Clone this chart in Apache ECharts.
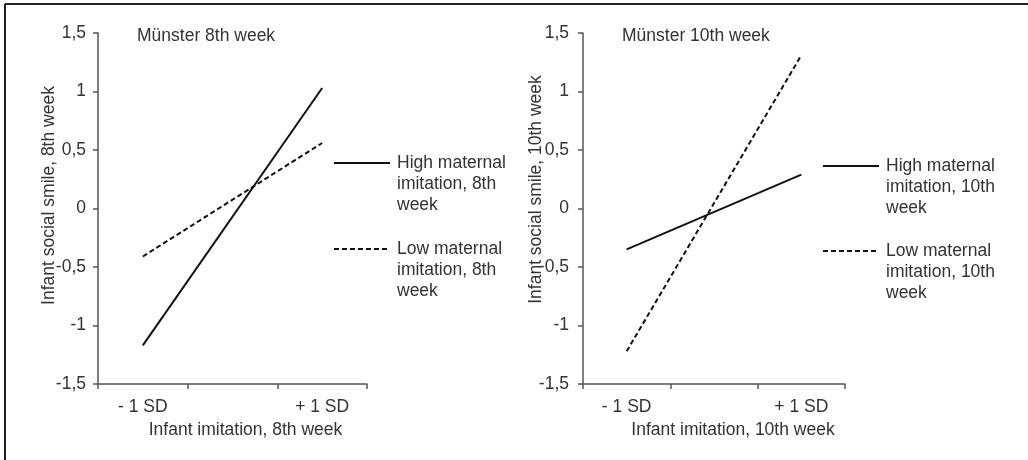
<!DOCTYPE html>
<html>
<head>
<meta charset="utf-8">
<script src="https://cdn.jsdelivr.net/npm/echarts@6/dist/echarts.min.js"></script>
<style>
html,body{margin:0;padding:0;background:#fff;}
#chart{width:1028px;height:460px;}
</style>
</head>
<body>
<div id="chart"></div>
<script>
// ---- data ----
const categories = ['- 1 SD', '', '+ 1 SD'];
const yTicks = [-1.5, -1, -0.5, 0, 0.5, 1, 1.5];
const panelTitles = ['Münster 8th week', 'Münster 10th week'];
const xNames = ['Infant imitation, 8th week', 'Infant imitation, 10th week'];
const yNames = ['Infant social smile, 8th week', 'Infant social smile, 10th week'];
const seriesNames8 = ['High maternal imitation, 8th week', 'Low maternal imitation, 8th week'];
const seriesNames10 = ['High maternal imitation, 10th week', 'Low maternal imitation, 10th week'];
const legendLines8 = ['High maternal\nimitation, 8th\nweek', 'Low maternal\nimitation, 8th\nweek'];
const legendLines10 = ['High maternal\nimitation, 10th\nweek', 'Low maternal\nimitation, 10th\nweek'];
const high8 = [-1.17, null, 1.03];
const low8 = [-0.41, null, 0.56];
const high10 = [-0.35, null, 0.29];
const low10 = [-1.22, null, 1.31];

// ---- chart ----
const FONT = '"Liberation Sans", Arial, sans-serif';
const FS = 17.5;
const TXT = '#333';
const AX = '#555';
const chart = echarts.init(document.getElementById('chart'));

const legendMap = {};
seriesNames8.forEach((n, i) => legendMap[n] = legendLines8[i]);
seriesNames10.forEach((n, i) => legendMap[n] = legendLines10[i]);

function xAxis(idx, padLeft) {
  return {
    type: 'category', gridIndex: idx, data: categories, boundaryGap: true,
    name: xNames[idx], nameLocation: 'middle', nameGap: 37, nameMoveOverlap: false,
    nameTextStyle: { fontFamily: FONT, fontSize: FS, color: TXT, padding: [0, 0, 0, padLeft] },
    axisLine: { onZero: false, lineStyle: { color: AX, width: 1.5 } },
    axisTick: { show: true, interval: 0, length: 5, lineStyle: { color: AX, width: 1.5 } },
    axisLabel: { interval: 0, margin: 14, fontFamily: FONT, fontSize: FS, color: TXT },
    splitLine: { show: false }
  };
}
function yAxis(idx, padLeft, gap, margin) {
  return {
    type: 'value', gridIndex: idx, min: yTicks[0], max: yTicks[yTicks.length - 1], interval: 0.5,
    name: yNames[idx], nameLocation: 'middle', nameGap: gap, nameRotate: 90, nameMoveOverlap: false,
    nameTextStyle: { fontFamily: FONT, fontSize: FS, color: TXT, padding: [0, 0, 0, padLeft] },
    axisLine: { show: true, onZero: false, lineStyle: { color: AX, width: 1.5 } },
    axisTick: { show: true, length: 5, lineStyle: { color: AX, width: 1.5 } },
    axisLabel: { margin: margin, fontFamily: FONT, fontSize: FS, color: TXT,
      formatter: v => String(v).replace('.', ',') },
    splitLine: { show: false }
  };
}
function line(name, data, idx, dashed) {
  return {
    type: 'line', name: name, data: data, xAxisIndex: idx, yAxisIndex: idx,
    connectNulls: true, symbol: 'none', silent: true,
    lineStyle: { color: '#111', width: 2, type: dashed ? [5, 3] : 'solid' },
    itemStyle: { color: '#111' }
  };
}
// two blank lines above the 3-line label so that its first line sits at the icon's centre
function legend(name, left, centerY) {
  return {
    data: [name], left: left, top: centerY - 52.5, padding: 0,
    itemWidth: 56, itemHeight: 2, itemGap: 0,
    selectedMode: false,
    itemStyle: { opacity: 0 },
    formatter: n => '\n\n' + legendMap[n],
    textStyle: { fontFamily: FONT, fontSize: FS, color: TXT, lineHeight: 21, padding: [0, 0, 0, 2] }
  };
}

chart.setOption({
  animation: false,
  backgroundColor: '#fff',
  title: [
    { text: panelTitles[0], left: 137, top: 27, padding: 0,
      textStyle: { fontFamily: FONT, fontSize: FS, fontWeight: 'normal', color: TXT } },
    { text: panelTitles[1], left: 622, top: 27, padding: 0,
      textStyle: { fontFamily: FONT, fontSize: FS, fontWeight: 'normal', color: TXT } }
  ],
  grid: [
    { left: 98, top: 33, width: 269, height: 351 },
    { left: 583, top: 33, width: 262, height: 351 }
  ],
  xAxis: [xAxis(0, 26), xAxis(1, 38)],
  yAxis: [yAxis(0, 26, 40, 12), yAxis(1, 38, 38, 14)],
  legend: [
    legend(seriesNames8[0], 333, 163),
    legend(seriesNames8[1], 333, 249),
    legend(seriesNames10[0], 822, 166),
    legend(seriesNames10[1], 822, 251)
  ],
  series: [
    line(seriesNames8[0], high8, 0, false),
    line(seriesNames8[1], low8, 0, true),
    line(seriesNames10[0], high10, 1, false),
    line(seriesNames10[1], low10, 1, true)
  ],
  graphic: [
    { type: 'line', shape: { x1: 5, y1: 4, x2: 1028, y2: 4 }, style: { stroke: '#222', lineWidth: 2 }, silent: true },
    { type: 'line', shape: { x1: 5, y1: 4, x2: 5, y2: 460 }, style: { stroke: '#222', lineWidth: 2 }, silent: true }
  ]
});
</script>
</body>
</html>
